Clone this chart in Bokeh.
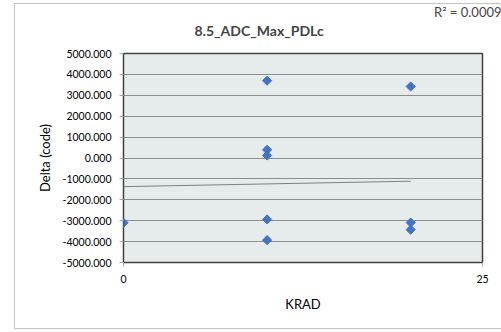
import math
from bokeh.plotting import figure
from bokeh.models import Range1d, FixedTicker, Title, CustomJSTickFormatter, InlineStyleSheet
from bokeh.embed import file_html
from bokeh.resources import INLINE

# data
krad = [0, 10, 10, 10, 10, 10, 20, 20, 20]
delta = [-3100, 3700, 390, 120, -2940, -3930, 3420, -3090, -3430]
trend_x = [0, 20]
trend_y = [-1370, -1110]
y_ticks = [-5000, -4000, -3000, -2000, -1000, 0, 1000, 2000, 3000, 4000, 5000]
x_ticks = [0, 25]

FONT = "Lato"

p = figure(width=501, height=332, output_backend="svg", toolbar_location=None,
           x_range=Range1d(0, 25), y_range=Range1d(-5000, 5000),
           min_border_left=123, min_border_right=19, min_border_top=53,
           min_border_bottom=70)
p.border_fill_color = "white"
p.background_fill_color = "#E6ECEC"
p.outline_line_color = "#404040"
p.outline_line_width = 1.5

p.xgrid.visible = False
p.ygrid.grid_line_color = "#8C8C8C"
p.ygrid.grid_line_width = 1

p.yaxis.ticker = FixedTicker(ticks=y_ticks)
p.xaxis.ticker = FixedTicker(ticks=x_ticks)
p.yaxis.formatter = CustomJSTickFormatter(code="return tick.toFixed(3);")
for ax in (p.xaxis, p.yaxis):
    ax.axis_line_color = None
    ax.major_tick_line_color = "#A6A6A6"
    ax.major_tick_out = 4
    ax.major_tick_in = 0
    ax.minor_tick_line_color = None
    ax.major_label_text_font = FONT
    ax.major_label_text_font_size = "10.5px"
    ax.major_label_text_color = "black"
    ax.axis_label_text_font = FONT
    ax.axis_label_text_font_size = "13px"
    ax.axis_label_text_font_style = "normal"
    ax.axis_label_text_color = "black"
p.yaxis.major_label_standoff = 8
p.xaxis.major_label_standoff = 8
p.yaxis.axis_label = "Delta (code)"
p.yaxis.axis_label_standoff = 6
p.xaxis.axis_label = "KRAD"
p.xaxis.axis_label_standoff = 10

p.line(trend_x, trend_y, line_color="#7F7F7F", line_width=1)
p.scatter(krad, delta, marker="square", angle=math.pi / 4, size=6.5,
          fill_color="#4472C4", line_color="#4472C4")

# outermost title: R² note, right aligned
p.title.text = "R² = 0.0009"
p.title.text_font = FONT
p.title.text_font_size = "13px"
p.title.text_font_style = "normal"
p.title.align = "right"
p.title.offset = -19
p.title.standoff = 0

# blank spacer between the chart name and the plot area (closest to the frame)
spacer = Title(text=" ", text_font=FONT, text_font_size="11px", standoff=0)
p.add_layout(spacer, "above")
name = Title(text="8.5_ADC_Max_PDLc", text_font=FONT, text_font_size="14px",
             text_font_style="bold", align="left", offset=71, standoff=0)
p.add_layout(name, "above")

p.stylesheets = [InlineStyleSheet(css="""
:host::after { content: ''; position: absolute; left: 14px; top: 3px;
  width: 495px; height: 326px; border: 1.5px solid #C4C4C4;
  box-sizing: border-box; pointer-events: none; }
""")]

open("out.html", "w").write(file_html(p, INLINE))
